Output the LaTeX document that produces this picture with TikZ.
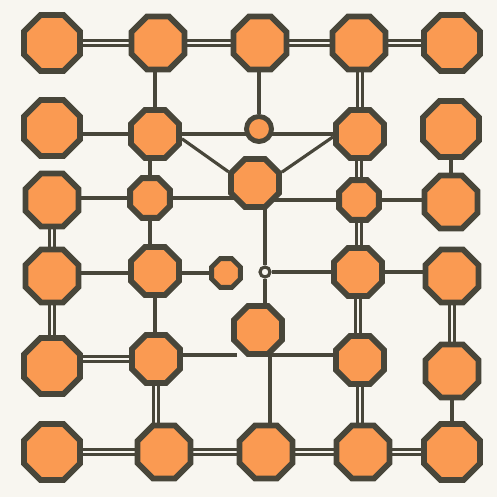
\documentclass[tikz,border=0pt]{standalone}
\usepackage{amsmath}
\usepackage{amssymb}
\usepackage{tikz}
\usetikzlibrary{shapes.geometric,backgrounds}
\definecolor{paper}{HTML}{F8F6F0}
\definecolor{rim}{HTML}{48463A}
\definecolor{peach}{HTML}{FA9A52}

\begin{document}
\begin{tikzpicture}[x=0.02cm,y=-0.02cm,
	oct/.style={regular polygon, regular polygon sides=8, draw=rim, fill=peach, line width=3.3pt, inner sep=0pt},
	octxl/.style={oct, minimum size=1.21cm},
	octl/.style={oct, minimum size=1.15cm},
	octm/.style={oct, minimum size=1.04cm},
	octs/.style={oct, minimum size=0.86cm},
	octxs/.style={oct, minimum size=0.62cm, line width=2.8pt},
	bead/.style={circle, draw=rim, fill=peach, line width=2.8pt, inner sep=0pt, minimum size=0.5cm},
	knot/.style={circle, draw=rim, fill=paper, line width=1.8pt, inner sep=0pt, minimum size=0.2cm},
	link/.style={draw=rim, line width=1.8pt},
	dlink/.style={draw=rim, line width=1.2pt, double=paper, double distance=1.7pt}]
	\useasboundingbox (0,0) rectangle (497,497);

	\node[octxl] (a1) at (52,43) {};
	\node[octl] (a2) at (158,43) {};
	\node[octl] (a3) at (260,43) {};
	\node[octl] (a4) at (359,43) {};
	\node[octxl] (a5) at (452,43) {};

	\node[octxl] (b1) at (52,128) {};
	\node[octm] (b2) at (155,134) {};
	\node[bead] (b3) at (259,129) {};
	\node[octm] (b4) at (360,134) {};
	\node[octxl] (b5) at (451,129) {};

	\node[octl] (c1) at (52,200) {};
	\node[octs] (c2) at (150,198) {};
	\node[octm] (hub) at (255,183) {};
	\node[octs] (c4) at (359,200) {};
	\node[octl] (c5) at (451,202) {};

	\node[octl] (d1) at (52,276) {};
	\node[octm] (d2) at (155,271) {};
	\node[octxs] (d3) at (226,273) {};
	\node[knot] (j) at (265,272) {};
	\node[octm] (d4) at (358,272) {};
	\node[octl] (d5) at (452,276) {};

	\node[octm] (o) at (258,330) {};

	\node[octxl] (e1) at (52,366) {};
	\node[octm] (e2) at (156,359) {};
	\node[octm] (e4) at (360,360) {};
	\node[octl] (e5) at (452,371) {};

	\node[octxl] (f1) at (52,452) {};
	\node[octl] (f2) at (164,452) {};
	\node[octl] (f3) at (266,452) {};
	\node[octl] (f4) at (363,452) {};
	\node[octxl] (f5) at (452,452) {};

	\coordinate (ow) at (237,355);
	\coordinate (oe) at (270,355);

	\begin{scope}[on background layer]
		\fill[paper] (0,0) rectangle (497,497);
		\draw[dlink] (a1) -- (a2) -- (a3) -- (a4) -- (a5); % top row
		\draw[dlink] (f1) -- (f2) -- (f3) -- (f4) -- (f5); % bottom row
		\draw[link] (b2) -- (b2 |- a2);
		\draw[link] (b3) -- (b3 |- a3);
		\draw[dlink] (b4) -- (b4 |- a4);
		\draw[link] (b1.east |- b2) -- (b2) -- (b3 |- b2) -- (b4);
		\draw[link] (b2.-10) -- (hub.157);
		\draw[link] (b4.186) -- (hub.22);
		\draw[link] (b5) -- (c5);
		\draw[link] (c2) -- (c2 |- b2);
		\draw[dlink] (c4) -- (c4 |- b4);
		\draw[link] (c1.east |- c2) -- (c2) -- (c2 -| hub);
		\draw[link] (hub |- c4) -- (c4) -- (c4 -| c5);
		\draw[dlink] (c1) -- (c1 |- d1);
		\draw[link] (c2) -- (c2 |- d2);
		\draw[link] (j) -- (j |- hub);
		\draw[link] (j) -- (j |- o);
		\draw[dlink] (c4) -- (c4 |- d4);
		\draw[link] (d1 |- d3) -- (d3);
		\draw[link] (j) -- (d4) -- (d4 -| d5);
		\draw[dlink] (d1) -- (d1 |- e1);
		\draw[link] (d2) -- (d2 |- e2);
		\draw[dlink] (d4) -- (d4 |- e4);
		\draw[dlink] (d5) -- (e5);
		\draw[dlink] (e1.east |- e2) -- (e2);
		\draw[link] (ow) -- (ow -| e2);
		\draw[link] (oe -| e4) -- (oe) -- (oe |- f3);
		\draw[dlink] (e2) -- (e2 |- f2);
		\draw[dlink] (e4) -- (e4 |- f4);
		\draw[link] (e5) -- (f5);
	\end{scope}
\end{tikzpicture}
\end{document}
